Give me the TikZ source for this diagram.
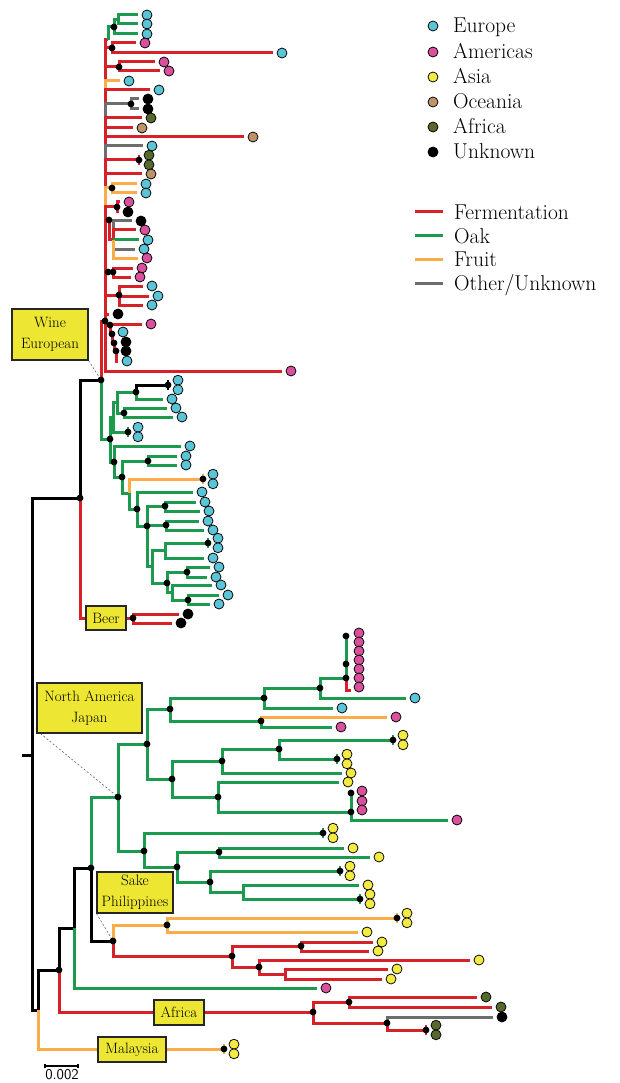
\documentclass[tikz,border=0pt]{standalone}
\usepackage{fontspec}
\usetikzlibrary{calc}
\pgfdeclarelayer{fg}
\pgfsetlayers{main,fg}
\definecolor{cR}{HTML}{D62128}
\definecolor{cG}{HTML}{1C9A4E}
\definecolor{cO}{HTML}{F9AC48}
\definecolor{cK}{HTML}{6D6D6D}
\definecolor{tE}{HTML}{5BC4D6}
\definecolor{tA}{HTML}{D9519D}
\definecolor{tS}{HTML}{F4EB42}
\definecolor{tO}{HTML}{BD9468}
\definecolor{tF}{HTML}{56692B}
\definecolor{cY}{HTML}{EDE733}
\tikzset{
  br/.style={line width=3pt,line cap=butt,line join=miter},
  tp/.style={circle,draw=black,line width=0.75pt,minimum size=10pt,inner sep=0pt},
  dt/.style={circle,fill=black,minimum size=6.8pt,inner sep=0pt},
  lab/.style={draw=black!85,line width=1.1pt,fill=cY,inner sep=0pt,align=center,
    font=\fontsize{15}{21}\selectfont},
  legtext/.style={font=\fontsize{21.5}{24}\selectfont,inner sep=0pt,anchor=base west},
  leader/.style={draw=black!60,line width=0.6pt,dash pattern=on 2pt off 2pt}
}
\newcommand\Inner[6]{%
  \coordinate (#2) at (#3,#4);
  \draw[br,draw=#5] (#1) |- (#2);
  \ifnum#6=1\relax
    \begin{pgfonlayer}{fg}\node[dt] (#2-d) at (#2) {};\end{pgfonlayer}%
  \fi}
\newcommand\Leaf[6]{%
  \coordinate (#2) at ({#3-9},#4);
  \draw[br,draw=#5] (#1) |- (#2);
  \node[tp,fill=#6] (#2-t) at (#3,#4) {};}
\newcommand\Cher[7]{%
  \coordinate (#2) at (#3,#4);
  \draw[br,draw=#5] (#1) |- (#2);
  \draw[line width=2.2pt,draw=#5] ([yshift=5pt]#2) -- ([yshift=-5pt]#2);
  \begin{pgfonlayer}{fg}\node[dt] (#2-d) at (#2) {};\end{pgfonlayer}%
  \node[tp,fill=#6] (#2-a) at ({#3+10},{#4-4.8}) {};
  \node[tp,fill=#7] (#2-b) at ({#3+10},{#4+4.8}) {};}
\newcommand\Tip[4]{\node[tp,fill=#4] (#1) at (#2,#3) {};}
\newcommand\FgDot[3]{\begin{pgfonlayer}{fg}\node[dt] (#1) at (#2,#3) {};\end{pgfonlayer}}
\begin{document}
\begin{tikzpicture}[x=1pt,y=-1pt]
\fill[white] (0,0) rectangle (619,1083);
\useasboundingbox (0,0) rectangle (619,1083);

% ---------- skeleton ----------
\coordinate (root) at (32,755);
\coordinate (root0) at (22,755);
\draw[br,black] (root0) -- (root);
\Inner{root}{WB}{80}{498}{black}{1}
\Inner{WB}{W}{101}{380}{black}{1}
\Inner{WB}{B}{133}{618}{cR}{1}
\Leaf{B}{b1}{188}{614}{cR}{black}
\Leaf{B}{b2}{181}{623}{cR}{black}

% ---------- wine european: red clade ----------
\Inner{W}{R0}{105}{321}{cR}{1}
\Inner{R0}{Rg}{108}{40}{cR}{0}
\Inner{Rg}{Gt}{114}{27}{cG}{1}
\Inner{Gt}{Gt2}{118}{20}{cG}{0}
\Leaf{Gt2}{t01}{147}{15}{cG}{tE}
\Leaf{Gt2}{t02}{147}{24}{cG}{tE}
\Leaf{Gt}{t03}{147}{34}{cG}{tE}
\Inner{R0}{Ra}{112}{48}{cR}{1}
\Leaf{Ra}{t04}{145}{43}{cR}{tA}
\Leaf{Ra}{t05}{282}{53}{cR}{tE}
\Inner{R0}{Rb}{119}{67}{cR}{1}
\Leaf{Rb}{t06}{164}{62}{cR}{tA}
\Leaf{Rb}{t07}{169}{71}{cR}{tA}
\Leaf{R0}{t08}{129}{81}{cO}{tE}
\Leaf{R0}{t09}{159}{90}{cR}{tE}
\Inner{R0}{Rc}{131}{104}{cK}{1}
\Leaf{Rc}{t10}{148}{99}{cK}{black}
\Leaf{Rc}{t11}{148}{109}{cK}{black}
\Leaf{R0}{t12}{151}{118}{cR}{tF}
\Leaf{R0}{t13}{142}{128}{cR}{tO}
\Leaf{R0}{t14}{253}{137}{cR}{tO}
\Leaf{R0}{t15}{152}{146}{cK}{tE}
\Cher{R0}{t16}{139}{160}{cR}{tF}{tF}
\Leaf{R0}{t17}{151}{174}{cR}{tO}
\Inner{R0}{Rd}{112}{188}{cO}{1}
\Leaf{Rd}{t18}{146}{184}{cO}{tE}
\Leaf{Rd}{t19}{146}{193}{cO}{tE}
\Inner{R0}{Re}{117}{207}{cR}{1}
\Leaf{Re}{t20}{129}{202}{cR}{tA}
\Leaf{Re}{t21}{128}{212}{cR}{black}
\Inner{R0}{Rf}{109}{220}{cR}{1}
\Inner{Rf}{Rf2}{113}{240}{cR}{0}
\Leaf{Rf2}{t22}{141}{221}{cK}{black}
\Leaf{Rf2}{t23}{145}{230}{cR}{tA}
\Leaf{Rf2}{t24}{148}{240}{cG}{tE}
\Leaf{Rf2}{t25}{144}{249}{cK}{tE}
\Leaf{Rf2}{t26}{147}{258}{cO}{tA}
\Inner{R0}{Rh0}{108}{272}{cR}{1}
\Inner{Rh0}{Rh}{113}{272}{cR}{1}
\Leaf{Rh}{t27}{142}{268}{cR}{tA}
\Leaf{Rh}{t28}{140}{277}{cR}{tA}
\Inner{R0}{Ri}{119}{295}{cR}{1}
\Leaf{Ri}{t29}{152}{286}{cR}{tE}
\Leaf{Ri}{t30}{158}{296}{cR}{tE}
\Leaf{Ri}{t31}{152}{305}{cR}{tE}
\Leaf{R0}{t32}{118}{314}{cR}{black}
\Inner{R0}{Rj}{110}{325}{cR}{1}
\Leaf{Rj}{t33}{151}{324}{cR}{tA}
\Inner{Rj}{Rk}{112}{334}{cR}{1}
\Leaf{Rk}{t34}{123}{332}{cR}{tE}
\Inner{Rk}{Rl}{114}{343}{cR}{1}
\Leaf{Rl}{t35}{126}{342}{cR}{black}
\Inner{Rl}{Rm}{116}{351}{cR}{1}
\Leaf{Rm}{t36}{126}{351}{cR}{black}
\Leaf{Rm}{t37}{127}{361}{cR}{tE}
\Leaf{R0}{t38}{291}{371}{cR}{tA}

% ---------- wine european: green clade ----------
\Inner{W}{G0}{110}{439}{cG}{1}
\Inner{G0}{G1}{113}{417}{cG}{0}
\Inner{G0}{G2}{114}{462}{cG}{1}
\Inner{G1}{G3}{117}{402}{cG}{0}
\Cher{G1}{c1}{128}{432}{cG}{tE}{tE}
\Inner{G3}{G31}{136}{392}{cG}{1}
\Inner{G3}{G32}{124}{413}{cG}{1}
\Cher{G31}{c2}{168}{385}{black}{tE}{tE}
\Leaf{G31}{g01}{172}{399}{cG}{tE}
\Leaf{G32}{g02}{176}{408}{cG}{tE}
\Leaf{G32}{g03}{182}{417}{cG}{tE}
\Leaf{G2}{g04}{190}{446}{cG}{tE}
\Inner{G2}{G4}{122}{477}{cG}{1}
\Inner{G4}{G41}{148}{461}{cG}{1}
\Leaf{G41}{g05}{186}{456}{cG}{tE}
\Leaf{G41}{g06}{186}{465}{cG}{tE}
\Inner{G4}{G5}{129}{493}{cG}{0}
\Cher{G5}{c3}{203}{479}{cO}{tE}{tE}
\Inner{G5}{G6}{137}{509}{cG}{1}
\Leaf{G6}{g07}{202}{492}{cG}{tE}
\Inner{G6}{G7}{147}{526}{cG}{1}
\Inner{G7}{G71}{165}{506}{cG}{1}
\Leaf{G71}{g08}{205}{502}{cG}{tE}
\Leaf{G71}{g09}{209}{511}{cG}{tE}
\Inner{G7}{G72}{166}{525}{cG}{1}
\Leaf{G72}{g10}{208}{521}{cG}{tE}
\Leaf{G72}{g11}{213}{530}{cG}{tE}
\Inner{G7}{G8}{152}{566}{cG}{0}
\Inner{G8}{G9}{165}{550}{cG}{0}
\Cher{G9}{c4}{208}{543}{cG}{tE}{tE}
\Leaf{G9}{g12}{213}{558}{cG}{tE}
\Inner{G8}{G10}{167}{583}{cG}{1}
\Inner{G10}{G101}{187}{572}{cG}{1}
\Leaf{G101}{g13}{219}{567}{cG}{tE}
\Leaf{G101}{g14}{216}{577}{cG}{tE}
\Inner{G10}{G11}{172}{592}{cG}{0}
\Leaf{G11}{g15}{221}{585}{cG}{tE}
\Inner{G11}{G12}{188}{600}{cG}{1}
\Leaf{G12}{g16}{228}{595}{cG}{tE}
\Leaf{G12}{g17}{219}{604}{cG}{tE}

% ---------- lower part ----------
\Inner{root}{N1}{38}{1010}{black}{0}
\Inner{N1}{N2}{59}{970}{black}{1}
\Cher{N1}{My}{224}{1049}{cO}{tS}{tS}
\Inner{N2}{N3}{74}{928}{black}{0}
\Leaf{N3}{pk1}{326}{988}{cG}{tA}
\Inner{N3}{N4}{91}{868}{black}{1}
\Inner{N2}{Af}{313}{1012}{cR}{1}
\Inner{Af}{Af1}{349}{1002}{cR}{1}
\Leaf{Af1}{af1}{486}{997}{cR}{tF}
\Leaf{Af1}{af2}{501}{1007}{cR}{tF}
\Inner{Af}{Af2}{387}{1023}{cR}{1}
\Leaf{Af2}{af3}{502}{1017}{cK}{black}
\Cher{Af2}{af4}{426}{1030}{cR}{tF}{tF}

% North America / Japan
\Inner{N4}{NA}{118}{797}{cG}{1}
\Inner{N4}{SK}{113}{941}{black}{1}
\Inner{NA}{n1}{147}{744}{cG}{1}
\Inner{NA}{n2}{144}{851}{cG}{1}
\Inner{n1}{n11}{170}{709}{cG}{1}
\Inner{n1}{n12}{172}{779}{cG}{1}
\Inner{n11}{n111}{264}{698}{cG}{1}
\Inner{n11}{n112}{261}{721}{cG}{1}
\Inner{n111}{n1111}{320}{688}{cG}{1}
\Leaf{n111}{e1}{342}{708}{cG}{tE}
\Inner{n1111}{pam}{346}{678}{cG}{1}
\Leaf{n1111}{e2}{415}{698}{cG}{tE}
\coordinate (pam1) at (346,634);
\draw[br,cG] (pam) -- (pam1);
\coordinate (pam2) at (351,690);
\draw[br,cR] (pam) |- (pam2);
\FgDot{pamd1}{346}{636}
\FgDot{pamd2}{346}{664}
\foreach \i in {0,...,6} {\node[tp,fill=tA] (pt\i) at (359,{633+9*\i}) {};}
\Leaf{n112}{p2}{396}{717}{cO}{tA}
\Leaf{n112}{p3}{341}{727}{cG}{tA}
\Inner{n12}{n121}{222}{761}{cG}{1}
\Inner{n12}{n122}{218}{797}{cG}{1}
\Inner{n121}{n1211}{279}{749}{cG}{1}
\Leaf{n121}{s1}{351}{773}{cG}{tS}
\Cher{n1211}{s2}{393}{740}{cG}{tS}{tS}
\Cher{n1211}{s3}{337}{759}{cG}{tS}{tS}
\Leaf{n122}{s4}{348}{782}{cG}{tS}
\Inner{n122}{n1221}{351}{812}{cG}{1}
\Inner{n1221}{n1222}{351}{793}{cG}{1}
\Leaf{n1221}{p4}{457}{820}{cG}{tA}
\Tip{p5}{362}{791}{tA}
\Tip{p6}{362}{801}{tA}
\Tip{p7}{362}{810}{tA}
\Cher{n2}{s5}{323}{833}{cG}{tS}{tS}
\Inner{n2}{n21}{177}{867}{cG}{1}
\Inner{n21}{n211}{219}{852}{cG}{1}
\Inner{n21}{n212}{210}{882}{cG}{1}
\Leaf{n211}{s6}{353}{848}{cG}{tS}
\Leaf{n211}{s7}{379}{857}{cG}{tS}
\Cher{n212}{s8}{340}{871}{cG}{tS}{tS}
\Inner{n212}{n2121}{243}{892}{cG}{0}
\Leaf{n2121}{s9}{368}{885}{cG}{tS}
\Cher{n2121}{s10}{360}{899}{cG}{tS}{tS}

% Sake / Philippines
\Inner{SK}{sk1}{167}{925}{cO}{1}
\Inner{SK}{sk2}{232}{956}{cR}{1}
\Cher{sk1}{s11}{397}{918}{cO}{tS}{tS}
\Leaf{sk1}{s12}{367}{932}{cO}{tS}
\Inner{sk2}{sk21}{301}{946}{cR}{1}
\Inner{sk2}{sk22}{259}{967}{cR}{1}
\Leaf{sk21}{s13}{382}{942}{cR}{tS}
\Leaf{sk21}{s14}{378}{951}{cR}{tS}
\Leaf{sk22}{s15}{479}{960}{cR}{tS}
\Inner{sk22}{sk221}{285}{974}{cR}{0}
\Leaf{sk221}{s16}{397}{969}{cR}{tS}
\Leaf{sk221}{s17}{391}{979}{cR}{tS}

% ---------- labels ----------
\begin{pgfonlayer}{fg}
\node[lab,minimum width=76pt,minimum height=51pt] (wine) at (50,334.5) {Wine\\European};
\node[lab,minimum width=105pt,minimum height=50pt] (naj) at (89.5,708) {North America\\Japan};
\node[lab,minimum width=76pt,minimum height=41pt] (sake) at (135,892.5) {Sake\\Philippines};
\node[lab,minimum width=40pt,minimum height=24pt] (beer) at (106,618) {Beer};
\node[lab,minimum width=50pt,minimum height=25pt] (afr) at (179,1012.5) {Africa};
\node[lab,minimum width=68pt,minimum height=25pt] (mal) at (132,1049.5) {Malaysia};
\end{pgfonlayer}
\draw[leader] (wine.south east) -- (W);
\draw[leader] ([xshift=4pt]naj.south west) -- (NA);
\draw[leader] (sake.south west) -- (SK);

% ---------- scale bar ----------
\coordinate (sb1) at (45,1066);
\coordinate (sb2) at (78,1066);
\draw[line width=1.2pt] ([yshift=2pt]sb1) -- ([yshift=-2pt]sb1);
\draw[line width=1.2pt] ([yshift=2pt]sb2) -- ([yshift=-2pt]sb2);
\draw[line width=1.2pt] (sb1) -- (sb2);
\node[font=\sffamily\fontsize{15}{15}\selectfont,inner sep=0pt,anchor=north] (sbl) at (62,1069.5) {0.002};

% ---------- legend ----------
\Tip{lg1}{433}{26}{tE}
\Tip{lg2}{433}{52}{tA}
\Tip{lg3}{433}{77}{tS}
\Tip{lg4}{433}{102}{tO}
\Tip{lg5}{433}{127}{tF}
\Tip{lg6}{433}{152}{black}
\node[legtext] (lgt1) at (453,32.5) {Europe};
\node[legtext] (lgt2) at (453,58.5) {Americas};
\node[legtext] (lgt3) at (453,83.5) {Asia};
\node[legtext] (lgt4) at (453,108.5) {Oceania};
\node[legtext] (lgt5) at (453,133.5) {Africa};
\node[legtext] (lgt6) at (453,158.5) {Unknown};
\coordinate (l1a) at (415,212); \coordinate (l1b) at (443,212);
\coordinate (l2a) at (415,236); \coordinate (l2b) at (443,236);
\coordinate (l3a) at (415,259); \coordinate (l3b) at (443,259);
\coordinate (l4a) at (415,283); \coordinate (l4b) at (443,283);
\draw[br,cR] (l1a) -- (l1b);
\draw[br,cG] (l2a) -- (l2b);
\draw[br,cO] (l3a) -- (l3b);
\draw[br,cK] (l4a) -- (l4b);
\node[legtext] (lt1) at (454,219.5) {Fermentation};
\node[legtext] (lt2) at (454,243.5) {Oak};
\node[legtext] (lt3) at (454,266.5) {Fruit};
\node[legtext] (lt4) at (454,290.5) {Other/Unknown};
\end{tikzpicture}
\end{document}
